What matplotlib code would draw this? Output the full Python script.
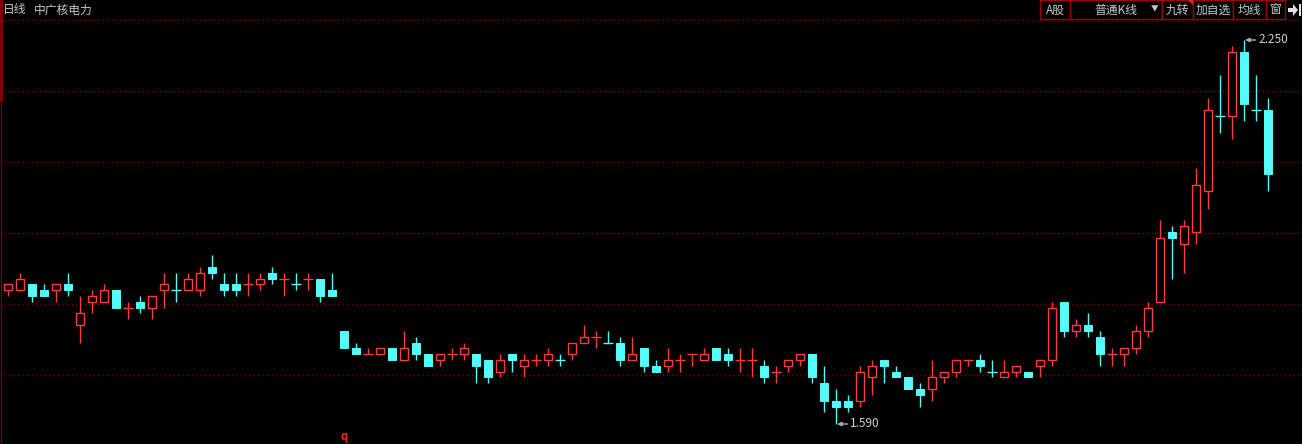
import matplotlib.pyplot as plt
from matplotlib.patches import Rectangle, Polygon
from matplotlib.transforms import blended_transform_factory
import numpy as np

plt.rcParams['font.family'] = ['Noto Sans CJK SC', 'DejaVu Sans']

# daily OHLC, 中广核电力
opens = [1.82, 1.82, 1.83, 1.82, 1.82, 1.83, 1.76, 1.80, 1.80, 1.82,
         1.79, 1.80, 1.79, 1.82, 1.82, 1.82, 1.82, 1.86, 1.83, 1.83,
         1.83, 1.83, 1.85, 1.84, 1.83, 1.84, 1.84, 1.82, 1.75, 1.72,
         1.71, 1.71, 1.72, 1.70, 1.73, 1.71, 1.70, 1.71, 1.71, 1.71,
         1.70, 1.68, 1.71, 1.69, 1.70, 1.70, 1.70, 1.71, 1.73, 1.74,
         1.73, 1.73, 1.70, 1.72, 1.69, 1.69, 1.70, 1.71, 1.70, 1.72,
         1.71, 1.70, 1.70, 1.69, 1.68, 1.69, 1.70, 1.71, 1.66, 1.63,
         1.63, 1.63, 1.67, 1.70, 1.68, 1.67, 1.65, 1.65, 1.67, 1.68,
         1.70, 1.70, 1.68, 1.67, 1.68, 1.68, 1.69, 1.70, 1.80, 1.75,
         1.76, 1.74, 1.71, 1.71, 1.72, 1.75, 1.80, 1.92, 1.90, 1.92,
         1.99, 2.12, 2.12, 2.23, 2.13, 2.13]
highs = [1.83, 1.85, 1.83, 1.83, 1.83, 1.85, 1.81, 1.82, 1.83, 1.82,
         1.80, 1.81, 1.81, 1.85, 1.85, 1.85, 1.86, 1.88, 1.85, 1.85,
         1.85, 1.85, 1.86, 1.85, 1.85, 1.85, 1.84, 1.85, 1.75, 1.73,
         1.72, 1.72, 1.72, 1.75, 1.74, 1.71, 1.71, 1.72, 1.73, 1.71,
         1.70, 1.71, 1.71, 1.71, 1.71, 1.72, 1.71, 1.73, 1.76, 1.75,
         1.75, 1.74, 1.74, 1.72, 1.70, 1.72, 1.71, 1.71, 1.72, 1.72,
         1.72, 1.72, 1.72, 1.70, 1.69, 1.70, 1.71, 1.71, 1.69, 1.65,
         1.64, 1.69, 1.70, 1.70, 1.69, 1.67, 1.66, 1.70, 1.68, 1.70,
         1.70, 1.71, 1.70, 1.70, 1.69, 1.68, 1.70, 1.80, 1.80, 1.77,
         1.78, 1.75, 1.72, 1.72, 1.76, 1.80, 1.94, 1.93, 1.94, 2.03,
         2.15, 2.19, 2.24, 2.25, 2.19, 2.15]
lows = [1.81, 1.82, 1.80, 1.81, 1.80, 1.81, 1.73, 1.78, 1.80, 1.79,
        1.77, 1.78, 1.77, 1.79, 1.80, 1.82, 1.81, 1.84, 1.81, 1.81,
        1.81, 1.82, 1.83, 1.81, 1.82, 1.82, 1.80, 1.81, 1.72, 1.71,
        1.71, 1.71, 1.70, 1.70, 1.70, 1.69, 1.69, 1.70, 1.70, 1.66,
        1.66, 1.67, 1.68, 1.67, 1.69, 1.69, 1.69, 1.70, 1.73, 1.72,
        1.73, 1.69, 1.70, 1.68, 1.68, 1.68, 1.68, 1.69, 1.70, 1.70,
        1.69, 1.68, 1.67, 1.66, 1.66, 1.68, 1.69, 1.66, 1.61, 1.59,
        1.61, 1.62, 1.64, 1.66, 1.67, 1.65, 1.62, 1.63, 1.66, 1.67,
        1.69, 1.68, 1.67, 1.67, 1.67, 1.67, 1.67, 1.69, 1.74, 1.74,
        1.74, 1.69, 1.69, 1.69, 1.71, 1.74, 1.80, 1.84, 1.85, 1.90,
        1.96, 2.09, 2.08, 2.11, 2.11, 1.99]
closes = [1.83, 1.84, 1.81, 1.81, 1.83, 1.82, 1.78, 1.81, 1.82, 1.79,
          1.79, 1.79, 1.81, 1.83, 1.82, 1.84, 1.85, 1.85, 1.82, 1.82,
          1.83, 1.84, 1.84, 1.84, 1.83, 1.84, 1.81, 1.81, 1.72, 1.71,
          1.71, 1.72, 1.70, 1.72, 1.71, 1.69, 1.71, 1.71, 1.72, 1.69,
          1.67, 1.70, 1.70, 1.70, 1.70, 1.71, 1.70, 1.73, 1.74, 1.74,
          1.73, 1.70, 1.71, 1.69, 1.68, 1.70, 1.70, 1.71, 1.71, 1.70,
          1.70, 1.70, 1.70, 1.67, 1.68, 1.70, 1.71, 1.67, 1.63, 1.62,
          1.62, 1.68, 1.69, 1.69, 1.67, 1.65, 1.64, 1.67, 1.68, 1.70,
          1.70, 1.69, 1.68, 1.68, 1.69, 1.67, 1.70, 1.79, 1.75, 1.76,
          1.75, 1.71, 1.71, 1.72, 1.75, 1.79, 1.91, 1.91, 1.93, 2.00,
          2.13, 2.12, 2.23, 2.14, 2.13, 2.02]

# ex-rights marker (index -> label)
ex_marks = {28: 'q'}

period = '日线'
stock = '中广核电力'
buttons = ['A股', '普通K线', '九转', '加自选', '均线', '窗']
button_edges = [1040, 1070, 1162, 1193, 1233, 1266, 1285]

UP = '#ff3b3b'
DOWN = '#54fcfc'
GRID = '#8a0000'
TXT = '#c8c8c8'

W, H = 1302, 444
fig = plt.figure(figsize=(W / 100, H / 100), dpi=100, facecolor='black')

o, h, l, c = map(np.array, (opens, highs, lows, closes))
x = np.arange(len(c))

# highest high 40px from top, lowest low 424px
px_per = (424 - 40) / (h.max() - l.min())
top_px, bot_px = 20, 446
y_top = h.max() + (40 - top_px) / px_per
y_bot = l.min() - (bot_px - 424) / px_per

ax = fig.add_axes([0, 1 - bot_px / H, 1, (bot_px - top_px) / H])
ax.set_facecolor('black')
ax.set_xlim(-8 / 12, (W - 8) / 12)
ax.set_ylim(y_bot, y_top)
ax.axis('off')

for lv in np.linspace(y_bot, y_top, 7)[1:]:
    ax.axhline(lv, color=GRID, lw=1, ls=(0, (1, 2.2)), clip_on=False, zorder=0)

prev = np.r_[o[0], c[:-1]]
up = (c > o) | ((c == o) & (c >= prev))
colors = np.where(up, UP, DOWN)
top = np.maximum(o, c)
bot = np.minimum(o, c)
bw = 0.7

ax.vlines(x, top, h, colors=colors, lw=1, zorder=2)
ax.vlines(x, l, bot, colors=colors, lw=1, zorder=2)

body = c != o
m = body & up
ax.bar(x[m], (top - bot)[m], bottom=bot[m], width=bw, facecolor='black',
       edgecolor=UP, lw=1.0, zorder=3)
m = body & ~up
ax.bar(x[m], (top - bot)[m], bottom=bot[m], width=bw, facecolor=DOWN,
       edgecolor=DOWN, lw=0.7, zorder=3)
d = ~body
ax.hlines(c[d], x[d] - bw / 2 - 0.05, x[d] + bw / 2 + 0.05, colors=colors[d], lw=1, zorder=3)

ih, il = int(np.argmax(h)), int(np.argmin(l))
for i, v in ((ih, h[ih]), (il, l[il])):
    ax.annotate(f'{v:.3f}', xy=(i + 0.1, v), xytext=(i + 1.2, v),
                color='#d0d0d0', fontsize=8.5, va='center', ha='left',
                arrowprops=dict(arrowstyle='-|>', color='#b0b0b0', lw=1,
                                shrinkA=0, shrinkB=0, mutation_scale=6))

tr = blended_transform_factory(ax.transData, ax.transAxes)
for i, s in ex_marks.items():
    ax.text(i, 0.022, s, transform=tr, color='#ff2020', fontsize=8,
            ha='center', va='center', fontweight='bold')

# header strip
hdr = fig.add_axes([0, 0, 1, 1])
hdr.set_xlim(0, W)
hdr.set_ylim(H, 0)
hdr.axis('off')
hdr.patch.set_alpha(0)

hdr.add_patch(Rectangle((0, 0), 2.5, 102, color='#8b0000', lw=0))
hdr.vlines(1, 0, H, color='#700000', lw=1)
hdr.text(3, 10, period, color=TXT, fontsize=8.5, va='center', ha='left')
hdr.text(34, 10, stock, color=TXT, fontsize=8.5, va='center', ha='left')

for k, lab in enumerate(buttons):
    x0, x1 = button_edges[k], button_edges[k + 1]
    hdr.add_patch(Rectangle((x0, 0), x1 - x0, 19, facecolor='black',
                            edgecolor='#a00000', lw=1))
    hdr.text((x0 + x1) / 2, 10, lab, color=TXT, fontsize=8.5,
             ha='center', va='center')
hdr.text(1155, 9, '▼', color=TXT, fontsize=5.5, ha='center', va='center')
hdr.add_patch(Polygon([(1188, 0.5), (1193, 0.5), (1193, 5.5)], color='#ff2020', lw=0))
hdr.add_patch(Polygon([(1288, 8), (1293, 8), (1293, 4), (1298, 10), (1293, 16),
                       (1293, 12), (1288, 12)], color='#e0e0e0', lw=0))
hdr.add_patch(Rectangle((1299, 4), 2, 12, color='#e0e0e0', lw=0))

fig.savefig('out.png', dpi=100, facecolor='black')
